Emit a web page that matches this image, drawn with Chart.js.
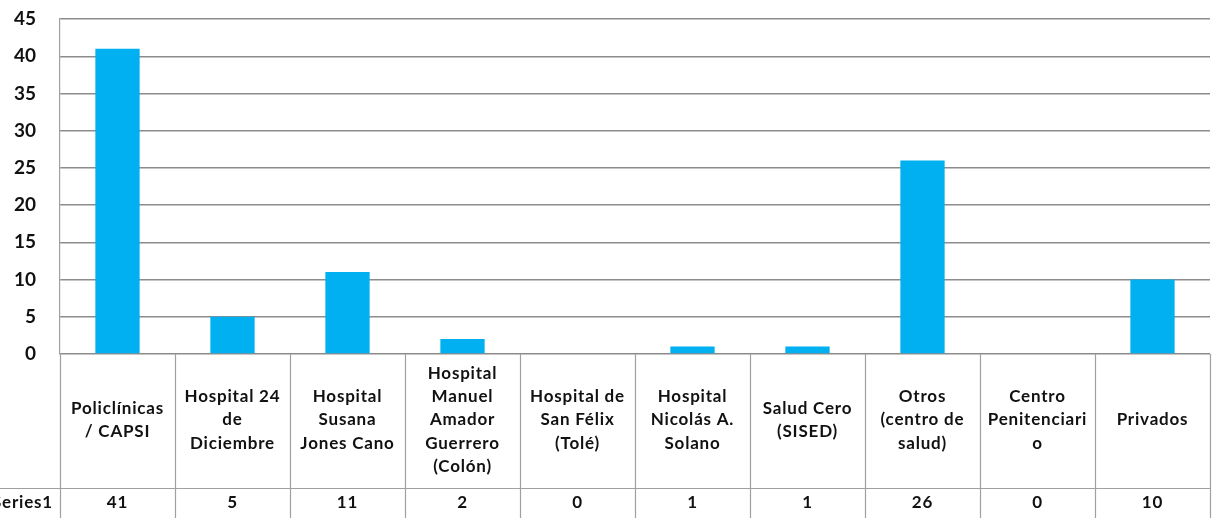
<!DOCTYPE html>
<html><head><meta charset="utf-8">
<style>html,body{margin:0;padding:0;background:#fff;overflow:hidden}</style>
<script src="https://cdn.jsdelivr.net/npm/chart.js@4/dist/chart.umd.min.js"></script>
</head><body>
<canvas id="c" width="1215" height="518" style="display:block"></canvas>
<script>
const categories = [
  ["Policlínicas", "/ CAPSI"],
  ["Hospital 24", "de", "Diciembre"],
  ["Hospital", "Susana", "Jones Cano"],
  ["Hospital", "Manuel", "Amador", "Guerrero", "(Colón)"],
  ["Hospital de", "San Félix", "(Tolé)"],
  ["Hospital", "Nicolás A.", "Solano"],
  ["Salud Cero", "(SISED)"],
  ["Otros", "(centro de", "salud)"],
  ["Centro", "Penitenciari", "o"],
  ["Privados"]
];
const values = [41, 5, 11, 2, 0, 1, 1, 26, 0, 10];
const seriesName = "Series1";
const yMin = 0, yMax = 45, yStep = 5;

const FONT = "Lato, 'Open Sans', sans-serif";
const tablePlugin = {
  id: 'dataTable',
  afterDraw(chart) {
    const ctx = chart.ctx;
    const area = chart.chartArea;
    const xs = chart.scales.x;
    const H = chart.height;
    const n = categories.length;
    const w = (area.right - area.left) / n;
    const rowY = 488;
    ctx.save();
    ctx.strokeStyle = '#a0a0a0';
    ctx.lineWidth = 1.2;
    ctx.beginPath();
    for (let i = 0; i <= n; i++) {
      const bx = Math.round(area.left + i * w) + 0.5;
      ctx.moveTo(bx, area.bottom);
      ctx.lineTo(bx, H);
    }
    ctx.moveTo(0, rowY + 0.5);
    ctx.lineTo(area.right, rowY + 0.5);
    ctx.stroke();

    ctx.fillStyle = '#111';
    ctx.font = "bold 17px " + FONT;
    ctx.letterSpacing = '0.8px';
    ctx.textAlign = 'center';
    ctx.textBaseline = 'middle';
    const lh = 23.3;
    const midY = (area.bottom + rowY) / 2 - 1;
    categories.forEach((lines, i) => {
      const cx = xs.getPixelForValue(i);
      const y0 = midY - (lines.length - 1) * lh / 2;
      lines.forEach((t, j) => ctx.fillText(t, cx, y0 + j * lh));
      ctx.fillText(String(values[i]), cx, 503);
    });
    ctx.textAlign = 'right';
    ctx.fillText(seriesName, 53, 503);
    ctx.restore();
  }
};

new Chart(document.getElementById('c'), {
  type: 'bar',
  data: {
    labels: categories.map(l => l.join(' ')),
    datasets: [{
      label: seriesName,
      data: values,
      backgroundColor: '#00B0F0',
      borderWidth: 0,
      barPercentage: 0.385,
      categoryPercentage: 1
    }]
  },
  options: {
    responsive: false,
    animation: false,
    layout: { padding: { top: 19, right: 5, bottom: 164, left: 0 } },
    plugins: { legend: { display: false }, tooltip: { enabled: false } },
    scales: {
      x: { display: false },
      y: {
        min: yMin, max: yMax,
        ticks: { stepSize: yStep, padding: 0, color: '#111', font: { family: FONT, size: 19, weight: 'bold' } },
        grid: { color: '#8c8c8c', lineWidth: 1.4, drawTicks: true, tickLength: 24, tickColor: 'rgba(0,0,0,0)' },
        border: { display: true, color: '#a0a0a0', width: 1.2 },
        afterFit(scale) { scale.width = 60; }
      }
    }
  },
  plugins: [tablePlugin]
});
</script>
</body></html>
